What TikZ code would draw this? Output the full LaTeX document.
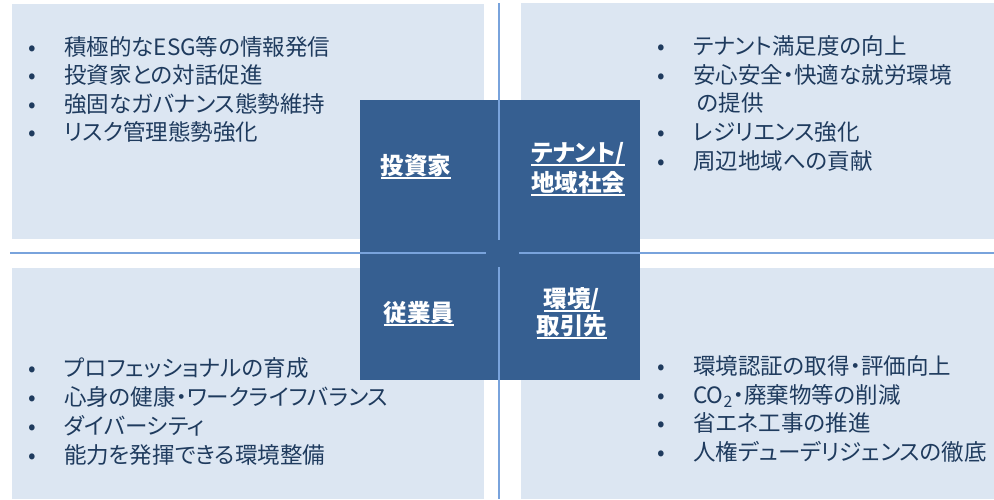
\documentclass[tikz,border=0pt]{standalone}
\usepackage{fontspec}
\setmainfont{Noto Sans CJK JP}[RawFeature=+palt]
\usetikzlibrary{positioning}
\definecolor{panelbg}{HTML}{DCE6F2}
\definecolor{hubblue}{HTML}{365F91}
\definecolor{axisblue}{HTML}{79A3DC}
\definecolor{itemtext}{HTML}{1F3B5E}
\newcommand{\ulbl}[1]{\setbox0\hbox{#1}\rlap{\copy0}\rule[-4.5pt]{\wd0}{1.2pt}}

\begin{document}
\begin{tikzpicture}[x=1pt,y=-1pt,
  panel/.style={rectangle,fill=panelbg,inner sep=0pt,anchor=north west},
  hub/.style={rectangle,fill=hubblue,inner sep=0pt,minimum size=280pt},
  axis/.style={axisblue,line width=1.7pt},
  stake/.style={anchor=base,inner sep=0pt,text=white,
    font=\fontsize{23.5}{28}\selectfont\bfseries},
  item/.style={anchor=base west,inner sep=0pt,text=itemtext,
    font=\fontsize{22.5}{27}\selectfont,
    execute at begin node={\makebox[64pt]{•}}},
  itemcont/.style={anchor=base west,inner sep=0pt,text=itemtext,
    font=\fontsize{22.5}{27}\selectfont}
]
  \useasboundingbox (0,0) rectangle (994,499);

  \node[panel,minimum width=472pt,minimum height=235pt] (pTL) at (12,4) {};
  \node[panel,minimum width=473pt,minimum height=236pt] (pTR) at (521,3) {};
  \node[panel,minimum width=472pt,minimum height=231pt] (pBL) at (12,268) {};
  \node[panel,minimum width=473pt,minimum height=231pt] (pBR) at (521,268) {};

  \node[hub] (hub) at (500,240) {};

  \draw[axis] (499,3) -- (499,240);
  \draw[axis] (499,267) -- (499,499);
  \draw[axis] (10,253) -- (486,253);
  \draw[axis] (519,253) -- (994,253);

  \node[stake] (inv) at (416,174) {\ulbl{投資家}};
  \node[stake] (tenA) at (578,161) {\ulbl{テナント/}};
  \node[stake] (tenB) at (578,191) {\ulbl{地域社会}};
  \node[stake] (emp) at (419,321) {\ulbl{従業員}};
  \node[stake] (envA) at (572,307) {\ulbl{環境/}};
  \node[stake] (envB) at (572,334) {\ulbl{取引先}};

  \node[item] (inv1) at (0,55) {積極的なESG等の情報発信};
  \node[item] (inv2) at (0,83.5) {投資家との対話促進};
  \node[item] (inv3) at (0,112) {強固なガバナンス態勢維持};
  \node[item] (inv4) at (0,140.5) {リスク管理態勢強化};

  \node[item] (ten1) at (629,54) {テナント満足度の向上};
  \node[item] (ten2) at (629,83) {安心安全・快適な就労環境};
  \node[itemcont] (ten2b) at (697,111) {の提供};
  \node[item] (ten3) at (629,140) {レジリエンス強化};
  \node[item] (ten4) at (629,169) {周辺地域への貢献};

  \node[item] (emp1) at (0,376) {プロフェッショナルの育成};
  \node[item] (emp2) at (0,405) {心身の健康・ワークライフバランス};
  \node[item] (emp3) at (0,434) {ダイバーシティ};
  \node[item] (emp4) at (0,463) {能力を発揮できる環境整備};

  \node[item] (env1) at (629,374) {環境認証の取得・評価向上};
  \node[item] (env2) at (629,403) {CO\textsubscript{2}・廃棄物等の削減};
  \node[item] (env3) at (629,431) {省エネ工事の推進};
  \node[item] (env4) at (629,460) {人権デューデリジェンスの徹底};
\end{tikzpicture}
\end{document}
